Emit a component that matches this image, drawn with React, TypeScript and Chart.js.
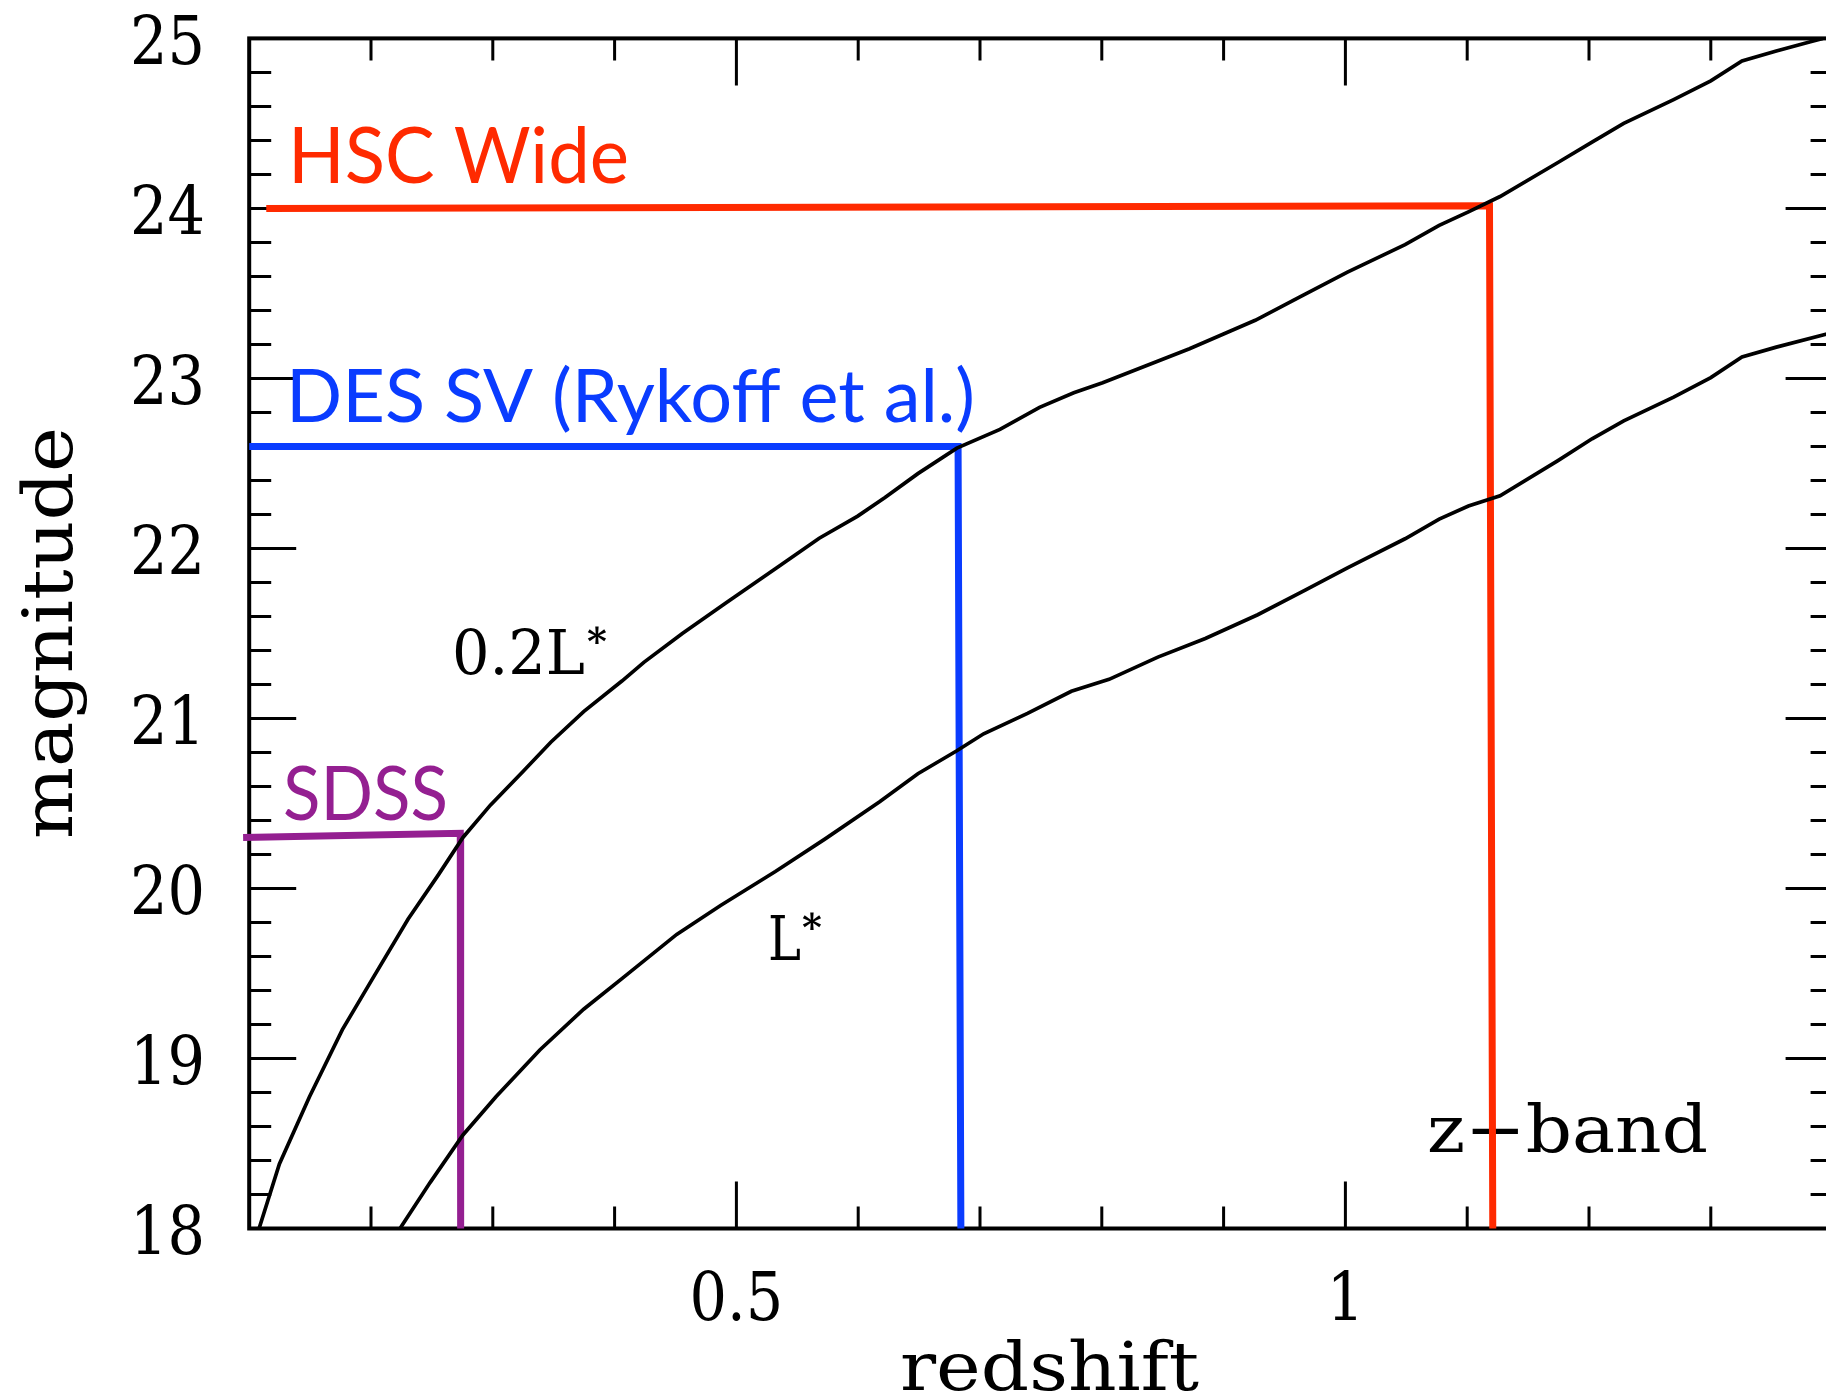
import React, { useEffect, useRef } from "react";
import { Chart, registerables } from "chart.js";

Chart.register(...registerables);

// 0.2 L* track (upper curve)
const faintZ = [0.1081, 0.1248, 0.1495, 0.1765, 0.2013, 0.2305, 0.2553, 0.2755, 0.298, 0.325, 0.3476, 0.3746, 0.406, 0.424, 0.4556, 0.4916, 0.532, 0.568, 0.5996, 0.622, 0.649, 0.681, 0.7164, 0.7489, 0.777, 0.8007, 0.872, 0.926, 0.9627, 1.0017, 1.049, 1.077, 1.101, 1.127, 1.1745, 1.2025, 1.2285, 1.2695, 1.3, 1.3256, 1.3538, 1.3818, 1.392];
const faintMag = [18.0, 18.38, 18.775, 19.17, 19.47, 19.82, 20.08, 20.3, 20.49, 20.69, 20.86, 21.04, 21.22, 21.33, 21.5, 21.68, 21.88, 22.06, 22.19, 22.3, 22.44, 22.59, 22.7, 22.83, 22.916, 22.975, 23.175, 23.342, 23.48, 23.625, 23.787, 23.9, 23.98, 24.07, 24.27, 24.39, 24.5, 24.64, 24.75, 24.867, 24.926, 24.98, 25.0];

// L* track (lower curve)
const brightZ = [0.2238, 0.2485, 0.2755, 0.3026, 0.3386, 0.3746, 0.406, 0.451, 0.487, 0.532, 0.5726, 0.6176, 0.649, 0.681, 0.703, 0.739, 0.775, 0.806, 0.846, 0.885, 0.928, 0.967, 1.0017, 1.049, 1.077, 1.101, 1.127, 1.1745, 1.2025, 1.2285, 1.2695, 1.3, 1.3256, 1.3538, 1.4];
const brightMag = [18.0, 18.27, 18.55, 18.775, 19.05, 19.29, 19.47, 19.73, 19.9, 20.1, 20.29, 20.51, 20.675, 20.81, 20.91, 21.03, 21.16, 21.23, 21.361, 21.47, 21.61, 21.755, 21.886, 22.057, 22.173, 22.25, 22.31, 22.517, 22.645, 22.75, 22.89, 23.005, 23.126, 23.184, 23.27];

// survey depth limits
const hscZ = [0.114, 1.1183, 1.121];
const hscMag = [24.0, 24.015, 18.0];
const desZ = [0.1, 0.682, 0.6843];
const desMag = [22.6, 22.6, 18.0];
const sdssZ = [0.095, 0.2733, 0.2736];
const sdssMag = [20.3, 20.325, 18.0];

// tick labels
const xTickValues = [0.5, 1];
const xTickLabels = ["0.5", "1"];
const yTickValues = [18, 19, 20, 21, 22, 23, 24, 25];
const yTickLabels = ["18", "19", "20", "21", "22", "23", "24", "25"];

const RED = "#ff2a00";
const BLUE = "#0a3cff";
const PURPLE = "#941f91";

const SERIF = '"DejaVu Serif", serif';
const SANS = 'Lato, "Open Sans", sans-serif';

function toPts(xs: number[], ys: number[]) {
  return xs.map((x, i) => ({ x, y: ys[i] }));
}

function drawText(
  ctx: CanvasRenderingContext2D,
  text: string,
  x: number,
  y: number,
  font: string,
  color: string,
  opts: { align?: "left" | "center" | "right"; width?: number; sx?: number; rotate?: number } = {}
) {
  ctx.save();
  ctx.translate(x, y);
  if (opts.rotate) ctx.rotate(opts.rotate);
  ctx.font = font;
  ctx.fillStyle = color;
  ctx.textAlign = "left";
  ctx.textBaseline = "alphabetic";
  const w = ctx.measureText(text).width;
  let s = opts.sx ?? 1;
  if (opts.width) s = opts.width / w;
  ctx.scale(s, 1);
  let off = 0;
  if (opts.align === "center") off = -w / 2;
  else if (opts.align === "right") off = -w;
  ctx.fillText(text, off, 0);
  ctx.restore();
}

const framePlugin = {
  id: "frameTicks",
  beforeDatasetsDraw(chart: any) {
    const { ctx, chartArea: a, scales } = chart;
    const x = scales.x;
    const y = scales.y;
    ctx.save();
    ctx.strokeStyle = "#000";
    ctx.lineCap = "butt";
    ctx.lineWidth = 3;
    ctx.beginPath();
    x.ticks.forEach((t: any) => {
      const v = t.value;
      if (v <= x.min + 1e-9 || v >= x.max - 1e-9) return;
      const px = x.getPixelForValue(v);
      const major = Math.abs(v * 2 - Math.round(v * 2)) < 1e-6;
      const len = major ? 47 : 22;
      ctx.moveTo(px, a.bottom);
      ctx.lineTo(px, a.bottom - len);
      ctx.moveTo(px, a.top);
      ctx.lineTo(px, a.top + len);
    });
    y.ticks.forEach((t: any) => {
      const v = t.value;
      if (v <= y.min + 1e-9 || v >= y.max - 1e-9) return;
      const py = y.getPixelForValue(v);
      const major = Math.abs(v - Math.round(v)) < 1e-6;
      const len = major ? 47 : 22;
      ctx.moveTo(a.left, py);
      ctx.lineTo(a.left + len, py);
      ctx.moveTo(a.right, py);
      ctx.lineTo(a.right - len, py);
    });
    ctx.stroke();
    ctx.lineWidth = 4;
    ctx.strokeRect(a.left, a.top, a.right - a.left, a.bottom - a.top);

    // tick labels
    const tickFont = `67px ${SERIF}`;
    yTickValues.forEach((v, i) => {
      const py = y.getPixelForValue(v);
      drawText(ctx, yTickLabels[i], 205, py + 25.5, tickFont, "#000", { align: "right", sx: 0.88 });
    });
    xTickValues.forEach((v, i) => {
      const px = x.getPixelForValue(v);
      drawText(ctx, xTickLabels[i], px, a.bottom + 91.5, tickFont, "#000", { align: "center", sx: 0.88 });
    });

    // axis titles
    drawText(ctx, "redshift", 1049.5, 1390, `68px ${SERIF}`, "#000", { align: "center", width: 299 });
    drawText(ctx, "magnitude", 72, 633, `70px ${SERIF}`, "#000", { align: "center", width: 412, rotate: -Math.PI / 2 });

    // curve labels
    drawText(ctx, "0.2L", 452, 674, `62px ${SERIF}`, "#000", { width: 133 });
    drawText(ctx, "*", 587, 654, `bold 38px ${SERIF}`, "#000");
    drawText(ctx, "L", 768, 960, `62px ${SERIF}`, "#000", { width: 33 });
    drawText(ctx, "*", 802, 940, `bold 38px ${SERIF}`, "#000");
    drawText(ctx, "z\u2212band", 1427, 1151.5, `66px ${SERIF}`, "#000", { width: 281 });

    // survey labels
    drawText(ctx, "HSC Wide", 288, 182.8, `77px ${SANS}`, RED, { width: 341 });
    drawText(ctx, "DES SV (Rykoff et al.)", 286, 421.5, `74px ${SANS}`, BLUE, { width: 689 });
    drawText(ctx, "SDSS", 283, 820, `76px ${SANS}`, PURPLE, { width: 165 });
    ctx.restore();
  },
};

export default function App() {
  const ref = useRef<HTMLCanvasElement | null>(null);
  useEffect(() => {
    if (!ref.current) return;
    const lineDs = (label: string, xs: number[], ys: number[], color: string, width: number, clip: any = undefined) => ({
      label,
      data: toPts(xs, ys),
      showLine: true,
      borderColor: color,
      backgroundColor: color,
      borderWidth: width,
      pointRadius: 0,
      tension: 0,
      borderJoinStyle: "miter" as const,
      borderCapStyle: "butt" as const,
      ...(clip !== undefined ? { clip } : {}),
    });
    const chart = new Chart(ref.current, {
      type: "scatter",
      data: {
        datasets: [
          lineDs("0.2L*", faintZ, faintMag, "#000", 3.7),
          lineDs("L*", brightZ, brightMag, "#000", 3.7),
          lineDs("HSC Wide", hscZ, hscMag, RED, 7, false),
          lineDs("DES SV", desZ, desMag, BLUE, 7, false),
          lineDs("SDSS", sdssZ, sdssMag, PURPLE, 7, false),
        ],
      },
      options: {
        responsive: false,
        animation: false,
        devicePixelRatio: 1,
        events: [],
        layout: { padding: { left: 0, top: 38.4, right: 7.4, bottom: 0 } },
        plugins: { legend: { display: false }, tooltip: { enabled: false } },
        scales: {
          x: {
            type: "linear",
            min: 0.1,
            max: 1.4,
            grid: { display: false },
            border: { display: false },
            ticks: { display: false, stepSize: 0.1 },
            afterFit: (s: any) => {
              s.height = 169.5;
            },
          },
          y: {
            type: "linear",
            min: 18,
            max: 25,
            grid: { display: false },
            border: { display: false },
            ticks: { display: false, stepSize: 0.2 },
            afterFit: (s: any) => {
              s.width = 249.2;
            },
          },
        },
      },
      plugins: [framePlugin],
    } as any);
    return () => chart.destroy();
  }, []);
  return (
    <div style={{ position: "absolute", left: 0, top: 0, width: 1826, height: 1398, overflow: "hidden", background: "#fff" }}>
      <canvas ref={ref} width={1840} height={1398} style={{ display: "block", width: 1840, height: 1398 }} />
    </div>
  );
}
